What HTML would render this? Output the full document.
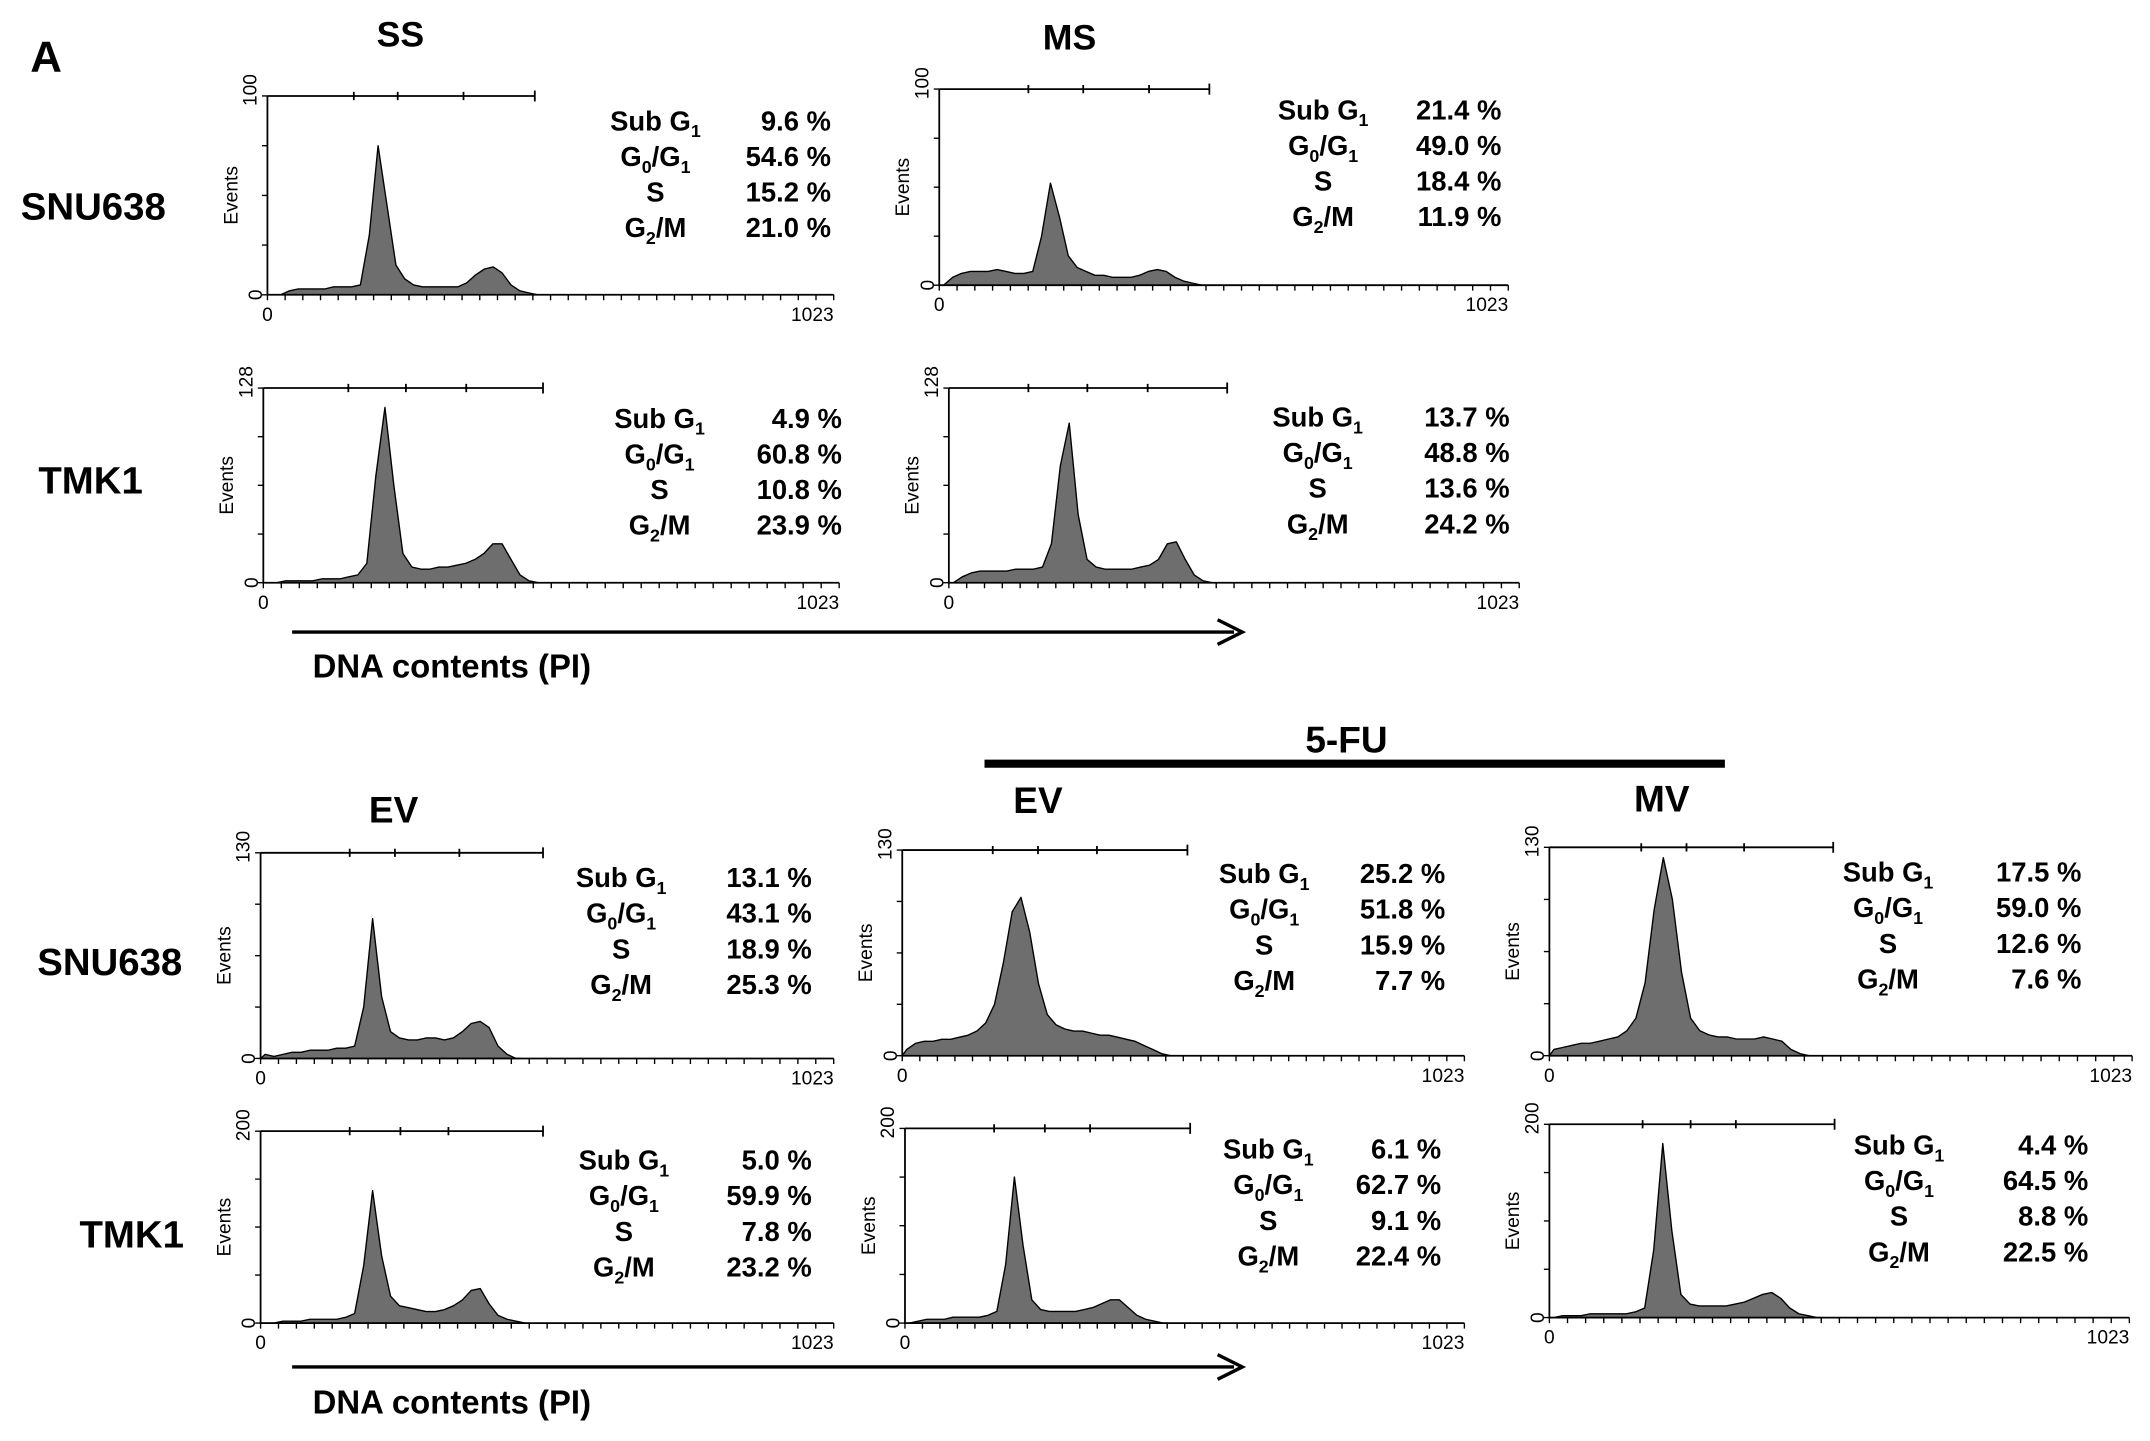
<!DOCTYPE html>
<html><head><meta charset="utf-8"><style>
html,body{margin:0;padding:0;background:#fff;}
svg{display:block;font-family:"Liberation Sans",Arial,sans-serif;}
</style></head><body>
<svg id="fig" width="2150" height="1441" viewBox="0 0 1568 1051" xmlns="http://www.w3.org/2000/svg">
<rect width="1568" height="1051" fill="#fff"/>
<text x="22" y="52" font-size="32" font-weight="bold">A</text>
<text x="292" y="34" font-size="26" font-weight="bold" text-anchor="middle">SS</text>
<text x="780" y="36" font-size="26" font-weight="bold" text-anchor="middle">MS</text>
<text x="68" y="160" font-size="28" font-weight="bold" text-anchor="middle">SNU638</text>
<text x="66" y="360" font-size="28" font-weight="bold" text-anchor="middle">TMK1</text>
<line x1="213" y1="461" x2="900" y2="461" stroke="#000" stroke-width="2.5"/>
<path d="M888,452 L906,461 L888,470" fill="none" stroke="#000" stroke-width="2.5"/>
<text x="228" y="494" font-size="24" font-weight="bold">DNA contents (PI)</text>
<line x1="718" y1="557" x2="1258" y2="557" stroke="#000" stroke-width="6"/>
<text x="982" y="549" font-size="27" font-weight="bold" text-anchor="middle">5-FU</text>
<text x="287" y="600" font-size="27" font-weight="bold" text-anchor="middle">EV</text>
<text x="757" y="593" font-size="27" font-weight="bold" text-anchor="middle">EV</text>
<text x="1212" y="592" font-size="27" font-weight="bold" text-anchor="middle">MV</text>
<text x="80" y="711" font-size="28" font-weight="bold" text-anchor="middle">SNU638</text>
<text x="96" y="910" font-size="28" font-weight="bold" text-anchor="middle">TMK1</text>
<line x1="213" y1="997" x2="900" y2="997" stroke="#000" stroke-width="2.5"/>
<path d="M888,988 L906,997 L888,1006" fill="none" stroke="#000" stroke-width="2.5"/>
<text x="228" y="1031" font-size="24" font-weight="bold">DNA contents (PI)</text>
<g id="panels"></g>
</svg>
<script>
// histogram heights per 16-channel bin (fraction of y max)
const histSS_SNU = [0,0,0.02,0.03,0.03,0.03,0.03,0.04,0.04,0.04,0.05,0.3,0.75,0.45,0.15,0.08,0.05,0.04,0.04,0.04,0.04,0.04,0.06,0.1,0.13,0.14,0.11,0.05,0.02,0.01,0];
const histMS_SNU = [0,0.04,0.06,0.07,0.07,0.07,0.08,0.07,0.06,0.06,0.07,0.25,0.52,0.35,0.15,0.09,0.07,0.05,0.05,0.04,0.04,0.04,0.05,0.07,0.08,0.07,0.04,0.02,0.01,0];
const histSS_TMK = [0,0,0.01,0.01,0.01,0.01,0.02,0.02,0.02,0.03,0.04,0.1,0.55,0.9,0.5,0.15,0.08,0.07,0.07,0.08,0.08,0.09,0.1,0.12,0.15,0.2,0.2,0.12,0.04,0.01,0];
const histMS_TMK = [0,0.03,0.05,0.06,0.06,0.06,0.06,0.07,0.07,0.07,0.08,0.2,0.6,0.82,0.35,0.12,0.08,0.07,0.07,0.07,0.07,0.08,0.09,0.12,0.2,0.21,0.12,0.04,0.01,0];
const histEV_SNU = [0.02,0.01,0.02,0.03,0.03,0.04,0.04,0.04,0.05,0.05,0.06,0.25,0.68,0.3,0.13,0.1,0.09,0.09,0.1,0.1,0.09,0.1,0.13,0.17,0.18,0.15,0.06,0.02,0];
const histFEV_SNU = [0.03,0.06,0.07,0.07,0.08,0.08,0.09,0.1,0.12,0.16,0.25,0.45,0.7,0.77,0.6,0.35,0.2,0.15,0.13,0.12,0.12,0.11,0.1,0.1,0.09,0.08,0.07,0.05,0.03,0.01,0];
const histFMV_SNU = [0.03,0.04,0.05,0.06,0.06,0.07,0.08,0.09,0.12,0.18,0.35,0.7,0.95,0.75,0.4,0.18,0.12,0.1,0.09,0.09,0.08,0.08,0.08,0.09,0.08,0.07,0.03,0.01,0];
const histEV_TMK = [0,0,0.01,0.01,0.01,0.02,0.02,0.02,0.02,0.03,0.05,0.3,0.69,0.35,0.14,0.09,0.08,0.07,0.06,0.06,0.07,0.09,0.12,0.17,0.18,0.1,0.04,0.02,0.01,0];
const histFEV_TMK = [0,0.01,0.02,0.02,0.02,0.03,0.03,0.03,0.03,0.04,0.06,0.3,0.75,0.4,0.12,0.07,0.06,0.06,0.06,0.06,0.07,0.08,0.1,0.12,0.12,0.08,0.04,0.02,0.01,0];
const histFMV_TMK = [0,0.01,0.01,0.01,0.02,0.02,0.02,0.02,0.02,0.03,0.05,0.35,0.9,0.45,0.12,0.07,0.06,0.06,0.06,0.06,0.07,0.08,0.1,0.12,0.13,0.1,0.05,0.02,0.01,0];
const yMaxLabels = ["100","100","128","128","130","130","130","200","200","200"];
const pctSS_SNU = ["9.6 %","54.6 %","15.2 %","21.0 %"];
const pctMS_SNU = ["21.4 %","49.0 %","18.4 %","11.9 %"];
const pctSS_TMK = ["4.9 %","60.8 %","10.8 %","23.9 %"];
const pctMS_TMK = ["13.7 %","48.8 %","13.6 %","24.2 %"];
const pctEV_SNU = ["13.1 %","43.1 %","18.9 %","25.3 %"];
const pctFEV_SNU = ["25.2 %","51.8 %","15.9 %","7.7 %"];
const pctFMV_SNU = ["17.5 %","59.0 %","12.6 %","7.6 %"];
const pctEV_TMK = ["5.0 %","59.9 %","7.8 %","23.2 %"];
const pctFEV_TMK = ["6.1 %","62.7 %","9.1 %","22.4 %"];
const pctFMV_TMK = ["4.4 %","64.5 %","8.8 %","22.5 %"];

const layout = [
 {n:"ss-snu638",h:histSS_SNU,p:pctSS_SNU,L:195,R:608,T:70,B:215,bar:390,mk:[258,290,338],tc:478,tr:606,ty:88},
 {n:"ms-snu638",h:histMS_SNU,p:pctMS_SNU,L:685,R:1100,T:65,B:208,bar:882,mk:[750,790,838],tc:965,tr:1095,ty:80},
 {n:"ss-tmk1",h:histSS_TMK,p:pctSS_TMK,L:192,R:612,T:283,B:425,bar:396,mk:[254,296,340],tc:481,tr:614,ty:305},
 {n:"ms-tmk1",h:histMS_TMK,p:pctMS_TMK,L:692,R:1108,T:283,B:425,bar:895,mk:[750,793,837],tc:961,tr:1101,ty:304},
 {n:"ev-snu638",h:histEV_SNU,p:pctEV_SNU,L:190,R:608,T:622,B:772,bar:396,mk:[255,288,335],tc:453,tr:592,ty:640},
 {n:"5fu-ev-snu638",h:histFEV_SNU,p:pctFEV_SNU,L:658,R:1068,T:620,B:770,bar:866,mk:[724,757,800],tc:922,tr:1054,ty:637},
 {n:"5fu-mv-snu638",h:histFMV_SNU,p:pctFMV_SNU,L:1130,R:1555,T:618,B:770,bar:1337,mk:[1197,1230,1272],tc:1377,tr:1518,ty:636},
 {n:"ev-tmk1",h:histEV_TMK,p:pctEV_TMK,L:190,R:608,T:825,B:965,bar:396,mk:[255,292,327],tc:455,tr:592,ty:846},
 {n:"5fu-ev-tmk1",h:histFEV_TMK,p:pctFEV_TMK,L:660,R:1068,T:823,B:965,bar:868,mk:[725,762,795],tc:925,tr:1051,ty:838},
 {n:"5fu-mv-tmk1",h:histFMV_TMK,p:pctFMV_TMK,L:1130,R:1553,T:820,B:961,bar:1338,mk:[1198,1233,1266],tc:1385,tr:1523,ty:835}
];
const NS="http://www.w3.org/2000/svg";
const root=document.getElementById("panels");
function mk(tag,attrs,parent){const e=document.createElementNS(NS,tag);for(const k in attrs)e.setAttribute(k,attrs[k]);parent.appendChild(e);return e;}
const rowLabels=[["Sub G","1",""],["G","0","/G","1"],["S"],["G","2","/M"]];
layout.forEach((c,i)=>{
  const g=mk("g",{},root);
  
  
  const xs=ch=>c.L+(ch/1023)*(c.R-c.L);
  const ys=v=>c.B-v*(c.B-c.T);
  // histogram outline through bin centers
  let d="M"+xs(0).toFixed(1)+","+c.B;
  c.h.forEach((v,k)=>{d+=" L"+xs(k*16+8).toFixed(1)+","+ys(v).toFixed(1);});
  d+=" L"+xs(c.h.length*16).toFixed(1)+","+c.B+" Z";
  const hp=mk("path",{d:d,fill:"#6e6e6e",stroke:"#000","stroke-width":"1","stroke-linejoin":"round"},g);
  
  
  const ax=mk("path",{d:`M${c.L},${c.T} L${c.L},${c.B} L${c.R},${c.B}`,fill:"none",stroke:"#000","stroke-width":"1.3"},g);
  
  
  let t="";
  for(let q=0;q<=4;q++){const y=c.T+q*(c.B-c.T)/4;t+=`M${c.L-4},${y} L${c.L},${y} `;}
  for(let q=0;q<=32;q++){const x=c.L+q*(c.R-c.L)/32;t+=`M${x},${c.B} L${x},${c.B+4} `;}
  mk("path",{d:t,stroke:"#000","stroke-width":"1"},g);
  let b=`M${c.L},${c.T} L${c.bar},${c.T} M${c.bar},${c.T-4} L${c.bar},${c.T+4} `;
  c.mk.forEach(x=>{b+=`M${x},${c.T-3} L${x},${c.T+3} `;});
  const gb=mk("path",{d:b,stroke:"#000","stroke-width":"1.3",fill:"none"},g);
  
  
  const ym=mk("text",{x:c.L-8,y:c.T,"font-size":"14","text-anchor":"end",transform:`rotate(-90 ${c.L-8} ${c.T}) translate(16 0)`},g);
  ym.textContent=yMaxLabels[i];
  
  
  const y0=mk("text",{x:c.L-8,y:c.B+4,"font-size":"14","text-anchor":"middle",transform:`rotate(-90 ${c.L-8} ${c.B})`},g);
  y0.textContent="0";
  
  
  const ev=mk("text",{x:c.L-26,y:(c.T+c.B)/2+4,"font-size":"14","text-anchor":"middle",transform:`rotate(-90 ${c.L-26} ${(c.T+c.B)/2})`},g);
  ev.textContent="Events";
  
  
  const x0=mk("text",{x:c.L,y:c.B+19,"font-size":"14","text-anchor":"middle"},g);
  x0.textContent="0";
  
  
  const x1=mk("text",{x:c.R,y:c.B+19,"font-size":"14","text-anchor":"end"},g);
  x1.textContent="1023";
  
  
  rowLabels.forEach((parts,r)=>{
    const y=c.ty+r*26+7;
    const lt=mk("text",{x:c.tc,y:y,"font-size":"20","font-weight":"bold","text-anchor":"middle"},g);
    
    
    parts.forEach((s,k)=>{ if(!s) return; const sub=(k%2===1); const sp=mk("tspan",sub?{"font-size":"13",dy:"5"}:(k>1?{dy:"-5"}:{}),lt); sp.textContent=s; });
    const vt=mk("text",{x:c.tr,y:y,"font-size":"20","font-weight":"bold","text-anchor":"end"},g);
    vt.textContent=c.p[r];
    
    
  });
});
</script>
</body></html>
